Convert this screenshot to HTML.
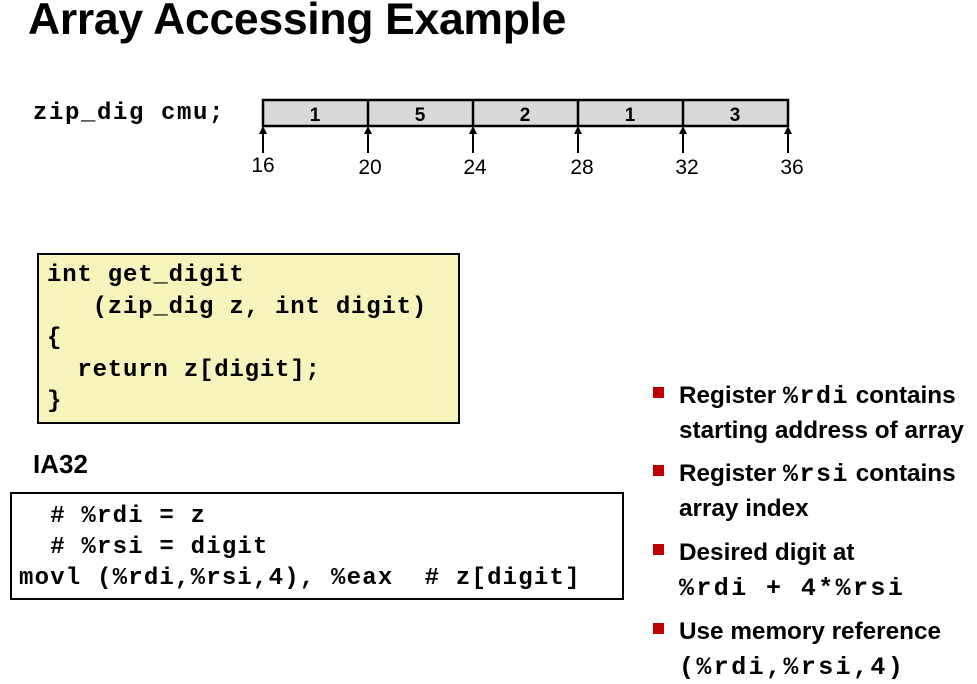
<!DOCTYPE html>
<html><head><style>
body{margin:0;width:977px;height:684px;background:#fff;position:relative;overflow:hidden}
.a{position:absolute;white-space:pre}
.t{font-family:"Liberation Sans",sans-serif;font-weight:bold;color:#000}
.m{font-family:"Liberation Mono",monospace;font-weight:bold;font-size:24px;letter-spacing:0.8px;color:#000}
.b{font-family:"Liberation Sans",sans-serif;font-weight:bold;font-size:24.3px;letter-spacing:0px}
.b .m{line-height:20px}
.sq{position:absolute;width:11px;height:11px;background:#c00000;left:653px}
</style></head><body>
<div class="a t" style="left:28px;top:-5px;font-size:44.5px;letter-spacing:-0.3px">Array Accessing Example</div>
<div class="a m" style="left:33px;top:100px;letter-spacing:1.6px">zip_dig cmu;</div>
<svg class="a" style="left:0;top:0" width="977" height="200">
<rect x="263" y="100" width="525" height="26" fill="#d9d9d9" stroke="#000" stroke-width="2.5"/>
<g stroke="#000" stroke-width="2.5">
<line x1="368" y1="100" x2="368" y2="126"/><line x1="473" y1="100" x2="473" y2="126"/><line x1="578" y1="100" x2="578" y2="126"/><line x1="683" y1="100" x2="683" y2="126"/>
</g>
<g font-family="Liberation Sans" font-weight="bold" font-size="19" text-anchor="middle">
<text x="315" y="121">1</text><text x="420" y="121">5</text><text x="525" y="121">2</text><text x="630" y="121">1</text><text x="735" y="121">3</text>
</g>
<g stroke="#000" stroke-width="2">
<line x1="263" y1="128" x2="263" y2="153"/><line x1="368" y1="128" x2="368" y2="153"/><line x1="473" y1="128" x2="473" y2="153"/><line x1="578" y1="128" x2="578" y2="153"/><line x1="683" y1="128" x2="683" y2="153"/><line x1="788" y1="128" x2="788" y2="153"/>
</g>
<g fill="#000">
<polygon points="263,126 259,134 267,134"/><polygon points="368,126 364,134 372,134"/><polygon points="473,126 469,134 477,134"/><polygon points="578,126 574,134 582,134"/><polygon points="683,126 679,134 687,134"/><polygon points="788,126 784,134 792,134"/>
</g>
<g font-family="Liberation Sans" font-size="21" text-anchor="middle">
<text x="263" y="172">16</text><text x="370" y="174">20</text><text x="475" y="174">24</text><text x="582" y="174">28</text><text x="687" y="174">32</text><text x="792" y="174">36</text>
</g>
</svg>
<div class="a" style="left:37px;top:253px;width:419px;height:167px;background:#f6f3bb;border:2px solid #000"></div>
<div class="a m" style="left:47px;top:260px;line-height:31.5px">int get_digit
   (zip_dig z, int digit)
{
  return z[digit];
}</div>
<div class="a t" style="left:33px;top:449px;font-size:26px">IA32</div>
<div class="a" style="left:10px;top:492px;width:610px;height:104px;border:2px solid #000"></div>
<div class="a m" style="left:19px;top:501px;line-height:31px;letter-spacing:1.2px">  # %rdi = z
  # %rsi = digit
movl (%rdi,%rsi,4), %eax  # z[digit]</div>
<div class="sq" style="top:387px"></div>
<div class="sq" style="top:465px"></div>
<div class="sq" style="top:544px"></div>
<div class="sq" style="top:623px"></div>
<div class="a b" style="left:679px;top:378px;line-height:35px">Register <span class="m" style="font-size:25px;letter-spacing:1.5px">%rdi</span> contains
starting address of array</div>
<div class="a b" style="left:679px;top:456px;line-height:35px">Register <span class="m" style="font-size:25px;letter-spacing:1.5px">%rsi</span> contains
array index</div>
<div class="a b" style="left:679px;top:535px;line-height:35px">Desired digit at
<span class="m" style="font-size:25px;letter-spacing:2.4px">%rdi + 4*%rsi</span></div>
<div class="a b" style="left:679px;top:614px;line-height:35px">Use memory reference
<span class="m" style="font-size:25px;letter-spacing:2.4px">(%rdi,%rsi,4)</span></div>
</body></html>
